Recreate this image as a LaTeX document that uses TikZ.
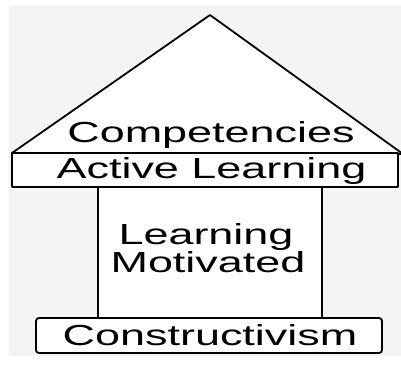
\documentclass[tikz,border=0pt]{standalone}
\usepackage{fontspec}
\newfontfamily\housefont[FakeStretch=1.55]{Liberation Sans}
\usetikzlibrary{positioning}
\definecolor{bggray}{rgb}{0.957,0.957,0.957}
\begin{document}
\begin{tikzpicture}[line cap=round,line join=round,x=1pt,y=-1pt,
  part/.style={draw=black,line width=1.8pt,fill=white,inner sep=0pt},
  word/.style={anchor=base,inner sep=0pt,font=\housefont\fontsize{29}{28}\selectfont}]
\useasboundingbox (0,0) rectangle (401,365);
\fill[bggray] (9,5) rectangle (401,356);
\draw[part] (12,153) -- (210,15) -- (403,154) -- cycle;
\node[part,minimum width=224pt,minimum height=131pt] (column) at (210,252.5) {};
\node[part,minimum width=386pt,minimum height=34pt] (active) at (205,170) {};
\node[part,rounded corners=3pt,minimum width=346pt,minimum height=35pt] (base) at (209,335.5) {};
\node[word] (competencies) at (211,142) {Competencies};
\node[word] (activetext) at (211.5,178) {Active Learning};
\node[word] (learning) at (206,244) {Learning};
\node[word] (motivated) at (208,272) {Motivated};
\node[word] (constructivism) at (210,345) {Constructivism};
\end{tikzpicture}
\end{document}
